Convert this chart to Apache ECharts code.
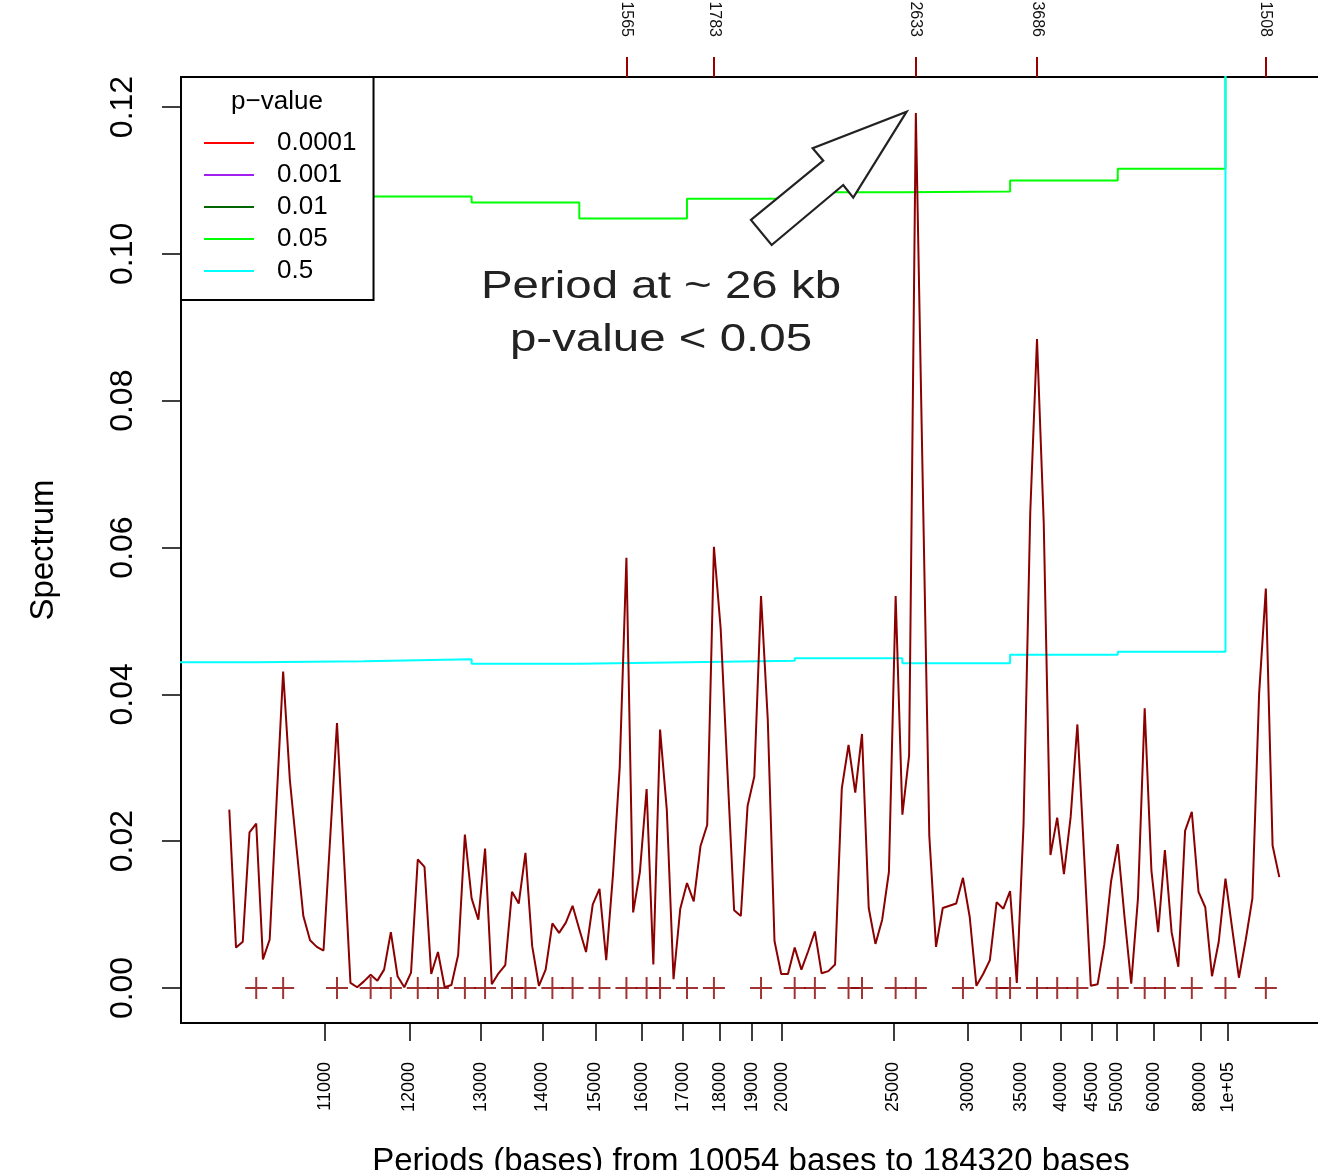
<!DOCTYPE html>
<html><head><meta charset="utf-8">
<script src="https://cdn.jsdelivr.net/npm/echarts@6/dist/echarts.min.js"></script>
<style>html,body{margin:0;padding:0;background:#fff;}#main{width:1318px;height:1170px;}</style>
</head><body><div id="main"></div>
<script>
// ---- data ----
const seqLength = 1658880;     // bases; period = seqLength / harmonic
const firstHarmonic = 165;     // harmonic of the leftmost point (10054 bases), decreasing by 1 per point
const spectrum = [
0.0243,0.0055,0.0063,0.0212,0.0224,0.0039,0.0066,0.0250,0.0431,0.0283,
0.0190,0.0098,0.0065,0.0056,0.0051,0.0206,0.0361,0.0184,0.0007,0.0001,
0.0009,0.0018,0.0010,0.0025,0.0076,0.0016,0.0001,0.0021,0.0175,0.0165,
0.0019,0.0049,0.0001,0.0004,0.0045,0.0209,0.0122,0.0093,0.0190,0.0005,
0.0020,0.0031,0.0131,0.0115,0.0184,0.0057,0.0003,0.0025,0.0088,0.0075,
0.0089,0.0112,0.0080,0.0049,0.0114,0.0135,0.0038,0.0154,0.0300,0.0586,
0.0103,0.0158,0.0271,0.0032,0.0352,0.0243,0.0012,0.0108,0.0143,0.0118,
0.0193,0.0222,0.0601,0.0490,0.0297,0.0106,0.0098,0.0248,0.0288,0.0534,
0.0366,0.0064,0.0019,0.0019,0.0055,0.0025,0.0050,0.0077,0.0020,0.0023,
0.0032,0.0272,0.0331,0.0266,0.0346,0.0109,0.0060,0.0093,0.0158,0.0534,
0.0236,0.0317,0.1192,0.0700,0.0207,0.0056,0.0109,0.0112,0.0115,0.0150,
0.0097,0.0003,0.0019,0.0038,0.0117,0.0108,0.0132,0.0007,0.0223,0.0648,
0.0884,0.0634,0.0181,0.0232,0.0155,0.0233,0.0359,0.0181,0.0003,0.0005,
0.0059,0.0145,0.0196,0.0097,0.0006,0.0122,0.0381,0.0160,0.0076,0.0188,
0.0076,0.0029,0.0214,0.0240,0.0131,0.0110,0.0016,0.0063,0.0149,0.0081,
0.0014,0.0065,0.0122,0.0401,0.0544,0.0194,0.0151
];
// 1-based point numbers marked with '+'
const peakPoints = [5,9,17,22,25,29,32,36,39,43,45,49,52,56,60,63,65,69,73,80,85,88,93,95,100,103,110,115,117,121,124,127,133,137,140,144,149,155];
// top axis marks
const topLabelPoints = [60,73,103,121,155];
const topLabels = ['1565','1783','2633','3686','1508'];
// bottom axis ticks (periods in bases)
const periodTicks = [11000,12000,13000,14000,15000,16000,17000,18000,19000,20000,25000,30000,35000,40000,45000,50000,60000,80000,100000];
const periodTickLabels = ['11000','12000','13000','14000','15000','16000','17000','18000','19000','20000','25000','30000','35000','40000','45000','50000','60000','80000','1e+05'];
const yTicks = [0,0.02,0.04,0.06,0.08,0.10,0.12];
// significance thresholds: bin edges (harmonic) and level per bin
const thresholdEdges = [174,161,145,129,113,97,81,65,49,33,17,1];
const threshold005 = [0.1078,0.1078,0.1078,0.1070,0.1048,0.1075,0.1084,0.1085,0.1100,0.1116,0.2];
const threshold05  = [0.04436,0.0445,0.04477,0.04418,0.04436,0.04458,0.04491,0.04423,0.0454,0.04581,0.2];
const legendNames = ['0.0001','0.001','0.01','0.05','0.5'];
const legendColors = ['#FF0000','#A020F0','#006400','#00FF00','#00FFFF'];
const annotationLines = ['Period at ~ 26 kb','p-value < 0.05'];
const annotatedPoint = 103;

// ---- build ----
const FONT = "'Liberation Sans', Arial, Helvetica, sans-serif";
const harmonicOf = p => firstHarmonic - (p - 1);
const lineData = spectrum.map((v, i) => [harmonicOf(i + 1), v]);
const peakData = peakPoints.map(p => [harmonicOf(p), 0]);
const tickK = periodTicks.map(p => seqLength / p);
const topK = topLabelPoints.map(harmonicOf);
function stepData(levels) {
  const out = [];
  for (let b = 0; b < levels.length; b++) {
    out.push([thresholdEdges[b], levels[b]]);
    out.push([thresholdEdges[b + 1], levels[b]]);
  }
  return out;
}
function lookup(keys, labels, v) {
  for (let i = 0; i < keys.length; i++) if (Math.abs(keys[i] - v) < 1e-6) return labels[i];
  return '';
}
const xMin = 2.806, xMax = 172.176;

const chart = echarts.init(document.getElementById('main'), null, {renderer: 'canvas'});
const plusPath = 'path://M10,0H12V10H22V12H12V22H10V12H0V10H10Z';

const series = [];
legendNames.forEach((n, i) => {
  let data = [];
  if (n === '0.05') data = stepData(threshold005);
  if (n === '0.5') data = stepData(threshold05);
  series.push({
    name: n, type: 'line', data: data, showSymbol: false, symbol: 'none',
    color: legendColors[i], lineStyle: {color: legendColors[i], width: 2},
    clip: true, silent: true, z: 2
  });
});
series.push({
  name: 'spectrum', type: 'line', data: lineData, showSymbol: false, symbol: 'none',
  color: '#8B0000', lineStyle: {color: '#8B0000', width: 2}, clip: true, z: 3
});
series.push({
  name: 'peaks', type: 'scatter', data: peakData, symbol: plusPath, symbolSize: 22,
  itemStyle: {color: '#8B0000'}, z: 4
});

const option = {
  animation: false,
  backgroundColor: '#fff',
  textStyle: {fontFamily: FONT},
  grid: {left: 181, top: 77, width: 1140, height: 946, show: true, borderColor: '#000', borderWidth: 2,
         backgroundColor: 'transparent', containLabel: false, outerBoundsMode: 'none'},
  legend: {
    data: legendNames.map((n, i) => ({name: n, icon: 'rect', itemStyle: {color: legendColors[i]}})),
    orient: 'vertical', left: 181, top: 77, itemWidth: 50, itemHeight: 2, itemGap: 6,
    padding: [53, 17, 16, 23], borderColor: '#000', borderWidth: 2, backgroundColor: '#fff',
    selectedMode: false, z: 10,
    textStyle: {fontSize: 26, lineHeight: 26, color: '#000', fontFamily: FONT, padding: [0, 0, 0, 18]}
  },
  xAxis: [{
    type: 'value', position: 'bottom', inverse: true, min: xMin, max: xMax,
    axisLine: {show: false, onZero: false}, splitLine: {show: false},
    axisTick: {show: true, length: 18, customValues: tickK, lineStyle: {color: '#000', width: 1.5}},
    axisLabel: {customValues: tickK, rotate: 90, margin: 39, fontSize: 18, color: '#000', fontFamily: FONT,
                formatter: v => lookup(tickK, periodTickLabels, v)},
    name: 'Periods (bases) from 10054 bases to 184320 bases', nameLocation: 'middle', nameGap: 122,
    nameTextStyle: {fontSize: 33, color: '#000', fontFamily: FONT}
  }, {
    type: 'value', position: 'top', inverse: true, min: xMin, max: xMax,
    axisLine: {show: false, onZero: false}, splitLine: {show: false},
    axisTick: {show: true, length: 20, customValues: topK, lineStyle: {color: '#9B0000', width: 2}},
    axisLabel: {customValues: topK, rotate: 90, margin: 40, fontSize: 16, color: '#111', fontFamily: FONT,
                formatter: v => lookup(topK, topLabels, v)}
  }],
  yAxis: {
    type: 'value', min: -0.00477, max: 0.12409,
    axisLine: {show: false, onZero: false}, splitLine: {show: false},
    axisTick: {show: true, length: 19, customValues: yTicks, lineStyle: {color: '#000', width: 1.5}},
    axisLabel: {customValues: yTicks, rotate: 90, margin: 42, fontSize: 32, color: '#000', fontFamily: FONT,
                formatter: v => v.toFixed(2)},
    name: 'Spectrum', nameLocation: 'middle', nameGap: 121, nameRotate: 90,
    nameTextStyle: {fontSize: 33, color: '#000', fontFamily: FONT}
  },
  series: series
};
chart.setOption(option);

// annotation: legend title, text and arrow pointing at the main peak
const tip = chart.convertToPixel({xAxisIndex: 0, yAxisIndex: 0}, [harmonicOf(annotatedPoint), spectrum[annotatedPoint - 1]]);
const tx = tip[0] - 9.2, ty = tip[1] - 1.2;
const arrowShape = [[0,0],[-53.4,86],[-63.4,73.3],[-135,133.3],[-155.7,108.3],[-83.4,49],[-94,36.6]];
chart.setOption({
  graphic: [
    {type: 'text', x: 277, y: 102, z: 100,
     style: {text: 'p\u2212value', fontSize: 26, fontFamily: FONT, fill: '#000', align: 'center', verticalAlign: 'middle'}},
    {type: 'text', x: 661, y: 287, scaleX: 1.217, z: 100,
     style: {text: annotationLines[0], fontSize: 39, fontFamily: FONT, fill: '#222', align: 'center', verticalAlign: 'middle'}},
    {type: 'text', x: 661, y: 340, scaleX: 1.217, z: 100,
     style: {text: annotationLines[1], fontSize: 39, fontFamily: FONT, fill: '#222', align: 'center', verticalAlign: 'middle'}},
    {type: 'polygon', z: 100,
     shape: {points: arrowShape.map(p => [tx + p[0], ty + p[1]])},
     style: {fill: '#fff', stroke: '#222', lineWidth: 2.2}}
  ]
});
</script></body></html>
